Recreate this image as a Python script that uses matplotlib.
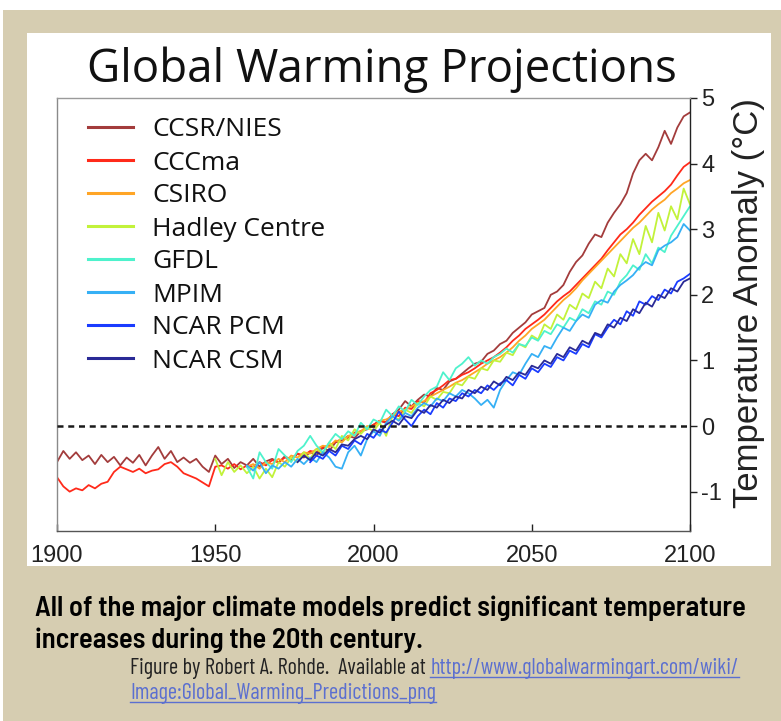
import os
import numpy as np
import matplotlib
matplotlib.use('Agg')
import matplotlib.pyplot as plt
from matplotlib import font_manager as fm
from matplotlib.patches import Rectangle
from matplotlib.lines import Line2D

plt.rcParams['axes.unicode_minus'] = False

# ---------------- data ----------------
models = ['CCSR/NIES', 'CCCma', 'CSIRO', 'Hadley Centre', 'GFDL', 'MPIM',
          'NCAR PCM', 'NCAR CSM']
colors = ['#a33c3c', '#ff2a1a', '#ffa526', '#c2f23a', '#4ef2cc', '#36b0f5',
          '#1a3cff', '#2a2a96']
start_years = [1900, 1900, 1960, 1950, 1960, 1960, 1980, 1976]
year_step = 2

ccsr_nies = [
    -0.55, -0.38, -0.50, -0.40, -0.52, -0.45, -0.58, -0.44, -0.55, -0.47,
    -0.60, -0.48, -0.56, -0.44, -0.60, -0.45, -0.32, -0.50, -0.38, -0.55,
    -0.48, -0.56, -0.50, -0.62, -0.70, -0.45, -0.58, -0.50, -0.64, -0.55,
    -0.60, -0.50, -0.62, -0.54, -0.50, -0.56, -0.46, -0.52, -0.42, -0.48,
    -0.40, -0.45, -0.33, -0.38, -0.25, -0.22, -0.15, -0.18, -0.08, -0.05,
    0.02, 0.08, 0.05, 0.18, 0.25, 0.38, 0.30, 0.40, 0.48, 0.45,
    0.58, 0.55, 0.68, 0.72, 0.80, 0.88, 0.95, 0.98, 1.10, 1.15,
    1.25, 1.30, 1.42, 1.50, 1.58, 1.70, 1.75, 1.80, 2.00, 2.05,
    2.15, 2.35, 2.50, 2.60, 2.78, 2.92, 2.88, 3.10, 3.25, 3.38,
    3.55, 3.85, 4.05, 4.15, 4.05, 4.25, 4.50, 4.30, 4.55, 4.72,
    4.78]
cccma = [
    -0.78, -0.92, -1.00, -0.95, -0.98, -0.90, -0.95, -0.88, -0.85, -0.70,
    -0.62, -0.66, -0.70, -0.65, -0.72, -0.68, -0.66, -0.58, -0.55, -0.62,
    -0.72, -0.76, -0.80, -0.86, -0.92, -0.62, -0.60, -0.65, -0.58, -0.66,
    -0.60, -0.62, -0.55, -0.60, -0.52, -0.55, -0.48, -0.50, -0.42, -0.45,
    -0.38, -0.40, -0.32, -0.30, -0.24, -0.20, -0.18, -0.10, -0.08, -0.02,
    0.02, 0.08, 0.06, 0.18, 0.15, 0.28, 0.26, 0.38, 0.36, 0.50,
    0.55, 0.62, 0.70, 0.72, 0.78, 0.82, 0.88, 0.95, 1.00, 1.05,
    1.12, 1.20, 1.30, 1.38, 1.48, 1.55, 1.62, 1.70, 1.80, 1.90,
    1.98, 2.05, 2.15, 2.25, 2.35, 2.45, 2.55, 2.68, 2.80, 2.92,
    3.00, 3.10, 3.22, 3.32, 3.42, 3.50, 3.58, 3.68, 3.82, 3.95,
    4.02]
csiro = [
    -0.62, -0.58, -0.65, -0.55, -0.58, -0.50, -0.55, -0.45, -0.48, -0.40,
    -0.42, -0.35, -0.30, -0.32, -0.22, -0.25, -0.15, -0.12, -0.08, 0.00,
    -0.02, 0.08, 0.10, 0.15, 0.22, 0.25, 0.30, 0.35, 0.38, 0.45,
    0.50, 0.55, 0.60, 0.66, 0.70, 0.76, 0.82, 0.88, 0.95, 1.00,
    1.05, 1.12, 1.20, 1.30, 1.38, 1.48, 1.55, 1.62, 1.72, 1.82,
    1.92, 2.00, 2.10, 2.22, 2.32, 2.42, 2.52, 2.62, 2.72, 2.82,
    2.92, 3.02, 3.10, 3.20, 3.30, 3.38, 3.45, 3.55, 3.62, 3.70,
    3.75]
hadley_centre = [
    -0.50, -0.75, -0.55, -0.70, -0.60, -0.72, -0.62, -0.80, -0.65, -0.78,
    -0.55, -0.62, -0.48, -0.55, -0.40, -0.50, -0.35, -0.42, -0.25, -0.35,
    -0.15, -0.22, -0.05, -0.12, -0.02, -0.08, 0.05, -0.15, 0.15, 0.10,
    0.25, 0.20, 0.35, 0.30, 0.45, 0.40, 0.52, 0.50, 0.65, 0.62,
    0.75, 0.72, 0.88, 0.85, 1.00, 0.98, 1.12, 1.08, 1.25, 1.20,
    1.38, 1.32, 1.55, 1.48, 1.70, 1.62, 1.85, 1.78, 2.02, 1.95,
    2.20, 2.10, 2.40, 2.28, 2.62, 2.48, 2.85, 2.62, 3.05, 2.80,
    3.25, 2.98, 3.35, 3.15, 3.62, 3.38]
gfdl = [
    -0.62, -0.80, -0.40, -0.55, -0.65, -0.35, -0.45, -0.55, -0.38, -0.30,
    -0.15, -0.30, -0.40, -0.25, -0.12, -0.20, -0.08, -0.15, 0.05, -0.05,
    0.10, 0.05, 0.25, 0.15, 0.30, 0.22, 0.40, 0.32, 0.45, 0.55,
    0.60, 0.82, 0.70, 0.88, 0.95, 1.05, 0.92, 1.00, 0.95, 1.05,
    1.10, 1.18, 1.12, 1.25, 1.22, 1.35, 1.30, 1.45, 1.40, 1.55,
    1.50, 1.65, 1.60, 1.78, 1.72, 1.90, 1.85, 2.05, 2.00, 2.20,
    2.30, 2.45, 2.38, 2.62, 2.48, 2.72, 2.65, 2.90, 3.05, 3.20,
    3.35]
mpim = [
    -0.60, -0.68, -0.55, -0.72, -0.60, -0.65, -0.55, -0.62, -0.50, -0.58,
    -0.48, -0.55, -0.40, -0.48, -0.62, -0.65, -0.40, -0.30, -0.45, -0.20,
    -0.08, -0.15, 0.05, 0.15, 0.08, 0.20, 0.15, 0.28, 0.35, 0.30,
    0.42, 0.38, 0.50, 0.45, 0.55, 0.50, 0.42, 0.32, 0.40, 0.28,
    0.55, 0.70, 0.82, 0.78, 0.95, 1.10, 1.05, 1.22, 1.18, 1.35,
    1.50, 1.45, 1.60, 1.70, 1.65, 1.85, 1.92, 1.88, 2.05, 2.15,
    2.22, 2.30, 2.42, 2.50, 2.45, 2.68, 2.75, 2.80, 2.88, 3.08,
    2.98]
ncar_pcm = [
    -0.55, -0.45, -0.50, -0.38, -0.45, -0.30, -0.35, -0.22, -0.28, -0.12,
    -0.18, -0.05, -0.10, 0.05, 0.22, 0.10, 0.00, 0.15, 0.25, 0.18,
    0.35, 0.28, 0.42, 0.38, 0.50, 0.45, 0.55, 0.50, 0.62, 0.55,
    0.65, 0.70, 0.62, 0.78, 0.72, 0.88, 0.82, 0.95, 0.90, 1.05,
    1.00, 1.15, 1.10, 1.25, 1.20, 1.40, 1.35, 1.50, 1.62, 1.55,
    1.75, 1.68, 1.90, 1.85, 1.98, 1.92, 2.08, 2.02, 2.20, 2.25,
    2.32]
ncar_csm = [
    -0.55, -0.45,
    -0.52, -0.40, -0.45, -0.35, -0.40, -0.28, -0.30, -0.20, -0.15, -0.20,
    -0.05, -0.10, 0.02, 0.08, 0.02, 0.15, 0.12, 0.25, 0.20, 0.32,
    0.28, 0.40, 0.35, 0.45, 0.42, 0.55, 0.50, 0.60, 0.55, 0.68,
    0.62, 0.75, 0.70, 0.82, 0.78, 0.92, 0.88, 1.00, 0.95, 1.10,
    1.05, 1.20, 1.15, 1.30, 1.25, 1.42, 1.38, 1.55, 1.50, 1.65,
    1.60, 1.78, 1.72, 1.88, 1.82, 2.00, 1.95, 2.10, 2.05, 2.20,
    2.25]

xticks = [1900, 1950, 2000, 2050, 2100]
yticks = [-1, 0, 1, 2, 3, 4, 5]

title_text = 'Global Warming Projections'
ylabel_text = 'Temperature Anomaly (\u00b0C)'
caption_lines = ['All of the major climate models predict significant temperature',
                 'increases during the 20th century.']
credit_text = 'Figure by Robert A. Rohde.  Available at '
link_lines = ['http://www.globalwarmingart.com/wiki/',
              'Image:Global_Warming_Predictions_png']


# ---------------- fonts ----------------
def pick(*names):
    for n in names:
        try:
            fm.findfont(fm.FontProperties(family=n), fallback_to_default=False)
            return n
        except Exception:
            pass
    return 'DejaVu Sans'


def by_file(*basenames, fallback=None):
    files = {os.path.basename(str(f.fname)): f.fname for f in fm.fontManager.ttflist}
    for b in basenames:
        if b in files:
            return dict(fontproperties=fm.FontProperties(fname=files[b]))
    return fallback


def regular_of(*names, fallback=None):
    """Static Regular face of the first family that has one."""
    for n in names:
        for f in fm.fontManager.ttflist:
            b = os.path.basename(str(f.fname))
            if f.name == n and '[' not in b and b.lower().endswith('-regular.ttf'):
                return dict(fontproperties=fm.FontProperties(fname=f.fname))
    return fallback


arialike = pick('Liberation Sans', 'DejaVu Sans')
hum_kw = regular_of('Source Sans 3', 'Source Sans Pro', 'Open Sans', 'PT Sans',
                    fallback=dict(family=pick('Open Sans', 'Noto Sans', 'DejaVu Sans')))
cap_kw = by_file('BarlowSemiCondensed-SemiBold.ttf', 'BarlowSemiCondensed-Medium.ttf',
                 'BarlowCondensed-SemiBold.ttf',
                 fallback=dict(family=arialike, weight='bold'))
cred_kw = by_file('BarlowCondensed-Regular.ttf', 'BarlowSemiCondensed-Regular.ttf',
                  fallback=dict(family=arialike))

# ---------------- figure ----------------
W, H = 781, 721
fig = plt.figure(figsize=(W / 100, H / 100), dpi=100)
fig.patch.set_facecolor('white')
renderer = fig.canvas.get_renderer()


def fx(px):
    return px / W


def fy(py):
    return 1 - py / H


def props(kw, size):
    d = dict(kw)
    if 'fontproperties' in d:
        fp = d.pop('fontproperties').copy()
        fp.set_size(size)
        return fp
    return fm.FontProperties(family=d.get('family'), weight=d.get('weight', 'normal'),
                             size=size)


def make_text(x, y, s, size, kw, **more):
    return fig.text(x, y, s, fontproperties=props(kw, size), **more)


def text_width(s, size, kw):
    t = make_text(0, 0, s, size, kw)
    w = t.get_window_extent(renderer).width
    t.remove()
    return w


def fit(s, target, kw):
    return 20.0 * target / text_width(s, 20, kw)


beige = '#d6cdb1'
fig.add_artist(Rectangle((fx(3), 0), 1 - fx(3), fy(10), transform=fig.transFigure,
                         facecolor=beige, edgecolor='none', zorder=0))
fig.add_artist(Rectangle((fx(27), fy(566)), fx(771) - fx(27), fy(33) - fy(566),
                         transform=fig.transFigure, facecolor='white',
                         edgecolor='none', zorder=0.5))

# title
ts = fit(title_text, 588, hum_kw)
make_text(fx(382), fy(82), title_text, ts, hum_kw, ha='center', va='baseline',
          color='#111111')

# axes
ax = fig.add_axes([fx(57), fy(531), fx(690) - fx(57), fy(98) - fy(531)])
ax.set_zorder(2)
series = [ccsr_nies, cccma, csiro, hadley_centre, gfdl, mpim, ncar_pcm, ncar_csm]
lines = []
for name, col, y0, vals in zip(models, colors, start_years, series):
    yrs = y0 + year_step * np.arange(len(vals))
    ln, = ax.plot(yrs, vals, color=col, lw=1.3, label=name, solid_joinstyle='round')
    lines.append(ln)

ax.axhline(0, color='#1a1a1a', lw=1.8, ls=(0, (2.4, 1.9)), zorder=5)

ax.set_xlim(1900, 2100)
ax.set_ylim(-1.6, 5.0)
ax.set_xticks(xticks)
ax.set_yticks(yticks)
ax.yaxis.tick_right()
ax.tick_params(axis='y', direction='out', length=5, width=1, labelsize=17, pad=3,
               colors='#222222')
ax.tick_params(axis='x', direction='in', length=5, width=1, labelsize=17, pad=10,
               colors='#222222')
for lab in ax.get_xticklabels() + ax.get_yticklabels():
    lab.set_family(arialike)

ax.spines['top'].set_color('#9a9a9a')
ax.spines['left'].set_color('#8a8a8a')
ax.spines['bottom'].set_color('#555555')
ax.spines['right'].set_color('#222222')
for s in ax.spines.values():
    s.set_linewidth(1.0)

ax.yaxis.set_label_position('right')
yl_fs = 21.0 * 410.0 / text_width(ylabel_text, 21, dict(family=arialike))
ax.set_ylabel(ylabel_text, fontsize=yl_fs, family=arialike, color='#222222')
ax.yaxis.set_label_coords((732 - 57) / (690 - 57), (531 - 303) / 433.0)

# legend
ls_fs = fit('Hadley Centre', 173, hum_kw)
probe = make_text(0, 0, 'Hadley Centre', ls_fs, hum_kw)
h_txt = probe.get_window_extent(renderer).height
probe.remove()
fs_px = ls_fs * 100 / 72.0
row_px = 33.0
leg_top_px = 130 - h_txt / 2.0
leg = ax.legend(handles=lines, labels=models, loc='upper left',
                bbox_to_anchor=((88 - 57) / 633.0, (531 - leg_top_px) / 433.0),
                frameon=False, prop=props(hum_kw, ls_fs),
                handlelength=45 / fs_px, handletextpad=19 / fs_px,
                labelspacing=(row_px - h_txt) / fs_px, borderpad=0,
                borderaxespad=0)
for t in leg.get_texts():
    t.set_color('#111111')
for l in leg.get_lines():
    l.set_linewidth(2.2)

# caption
cs = fit(caption_lines[0], 710, cap_kw)
make_text(fx(35), fy(616), caption_lines[0], cs, cap_kw, ha='left', va='baseline',
          color='black')
make_text(fx(35), fy(648), caption_lines[1], cs, cap_kw, ha='left', va='baseline',
          color='black')

# credit
crs = fit(credit_text + link_lines[0], 607, cred_kw)
make_text(fx(130), fy(674), credit_text, crs, cred_kw, ha='left', va='baseline',
          color='#222222')
w1 = text_width(credit_text, crs, cred_kw)
link_col = '#5b6fd0'
for s, y_px, x_px in [(link_lines[0], 674, 130 + w1), (link_lines[1], 699, 130)]:
    make_text(fx(x_px), fy(y_px), s, crs, cred_kw, ha='left', va='baseline',
              color=link_col)
    w = text_width(s, crs, cred_kw)
    fig.add_artist(Line2D([fx(x_px), fx(x_px + w)], [fy(y_px + 3), fy(y_px + 3)],
                          transform=fig.transFigure, color=link_col, lw=1.0))

fig.savefig('out.png', dpi=100, facecolor=fig.get_facecolor())
